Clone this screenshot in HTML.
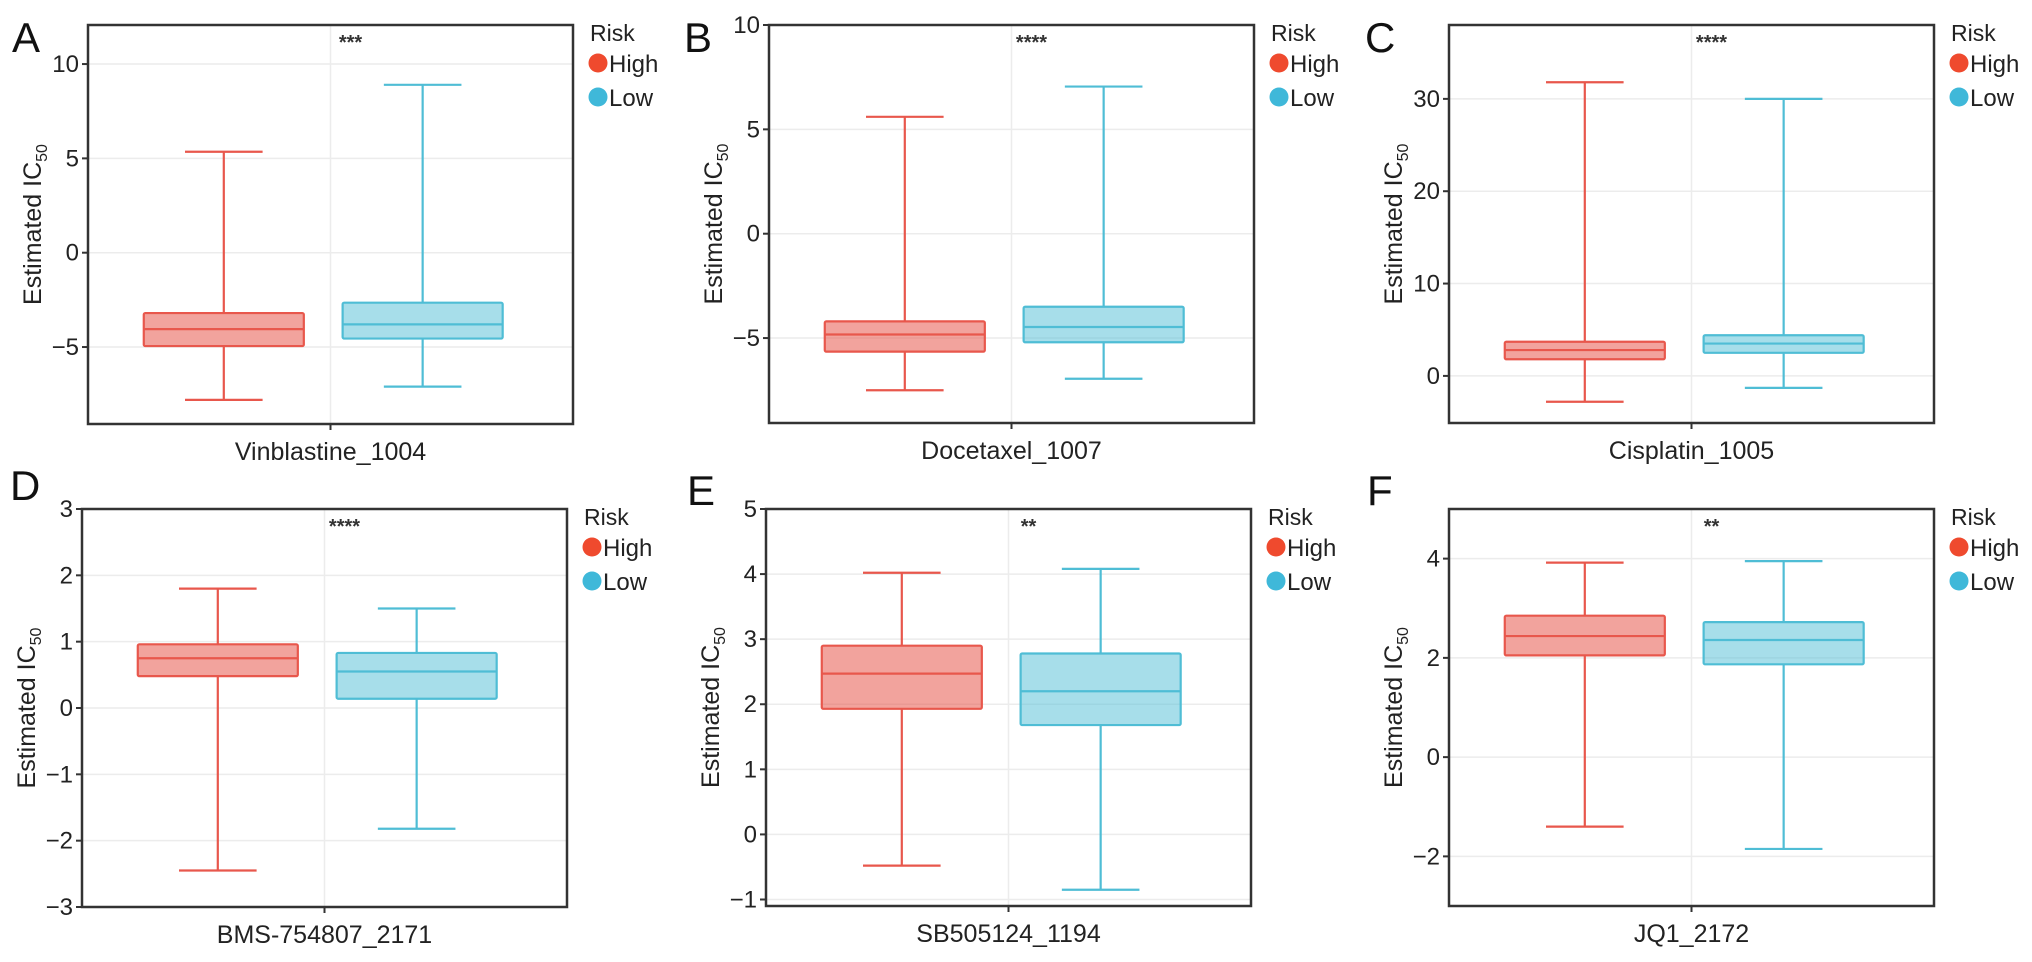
<!DOCTYPE html>
<html><head><meta charset="utf-8"><style>
html,body{margin:0;padding:0;background:#fff;}
svg{display:block;font-family:"Liberation Sans",Arial,sans-serif;}
</style></head><body>
<svg id="fig" width="2032" height="962" viewBox="0 0 2032 962" xmlns="http://www.w3.org/2000/svg"></svg>
<script>
// ---- data ----
const panelLetters = ["A","B","C","D","E","F"];
const drugNames = ["Vinblastine_1004","Docetaxel_1007","Cisplatin_1005","BMS-754807_2171","SB505124_1194","JQ1_2172"];
const significance = ["***","****","****","****","**","**"];
const yDomainMin = [-9.08,-9.07,-5.1,-3,-1.1,-3];
const yDomainMax = [12.07,10,38,3,5,5];
const yTicks = [[-5,0,5,10],[-5,0,5,10],[0,10,20,30],[-3,-2,-1,0,1,2,3],[-1,0,1,2,3,4,5],[-2,0,2,4]];
const yTickLabels = [["−5","0","5","10"],["−5","0","5","10"],["0","10","20","30"],["−3","−2","−1","0","1","2","3"],["−1","0","1","2","3","4","5"],["−2","0","2","4"]];
const groups = ["High","Low"];
// [min, q1, median, q3, max]
const highStats = [[-7.8,-4.95,-4.05,-3.2,5.35],[-7.5,-5.65,-4.83,-4.2,5.6],[-2.8,1.8,2.8,3.7,31.8],[-2.45,0.48,0.75,0.96,1.8],[-0.48,1.93,2.47,2.9,4.02],[-1.4,2.05,2.44,2.85,3.92]];
const lowStats = [[-7.1,-4.55,-3.8,-2.65,8.9],[-6.95,-5.2,-4.47,-3.5,7.05],[-1.3,2.5,3.5,4.4,30],[-1.82,0.14,0.55,0.83,1.5],[-0.85,1.68,2.2,2.78,4.08],[-1.85,1.87,2.36,2.72,3.95]];

// ---- layout ----
const plotLeft = [88,769,1449,82,766,1449];
const plotWidth = 485;
const plotTop = [25,25,25,509,509,509];
const plotBottom = [424,423,423,907,906,906];
const letterX = [12,684,1365,10,687,1367];
const letterY = [52,52,52,500,505,505];
const strokeCol = {High:"#e8574c",Low:"#4fbdd5"};
const fillCol = {High:"rgba(232,87,76,0.55)",Low:"rgba(79,189,213,0.5)"};
const dotCol = {High:"#ef4a2e",Low:"#3fb8d9"};
const groupPos = [0.28,0.69];

const NS="http://www.w3.org/2000/svg";
const svg=document.getElementById('fig');
function mk(tag,attrs,parent){const e=document.createElementNS(NS,tag);for(const k in attrs)e.setAttribute(k,attrs[k]);(parent||svg).appendChild(e);return e;}

for(let p=0;p<6;p++){
  const g=mk('g',{});
  
  
  const L=plotLeft[p],R=L+plotWidth,T=plotTop[p],B=plotBottom[p];
  const y=v=>B-(v-yDomainMin[p])/(yDomainMax[p]-yDomainMin[p])*(B-T);
  const x=f=>L+f*plotWidth;
  const cx=(L+R)/2;
  // grid
  yTicks[p].forEach((t,i)=>{
    const gl=mk('line',{x1:L,x2:R,y1:y(t),y2:y(t),stroke:'#ececec','stroke-width':1.5},g);
    
    
    const tk=mk('line',{x1:L-6,x2:L,y1:y(t),y2:y(t),stroke:'#333','stroke-width':2},g);
    
    
    const tl=mk('text',{x:L-9,y:y(t)+8,'text-anchor':'end','font-size':24,fill:'#222'},g);
    tl.textContent=yTickLabels[p][i];
    
    
  });
  const vg=mk('line',{x1:cx,x2:cx,y1:T,y2:B,stroke:'#ececec','stroke-width':1.5},g);
  
  
  // boxes
  groups.forEach((grp,gi)=>{
    const s=(gi===0?highStats:lowStats)[p];
    const c=x(groupPos[gi]),hw=0.165*plotWidth,cw=0.08*plotWidth;
    const bg=mk('g',{},g);
    
    
    mk('line',{x1:c,x2:c,y1:y(s[4]),y2:y(s[3]),stroke:strokeCol[grp],'stroke-width':2.2},bg);
    mk('line',{x1:c,x2:c,y1:y(s[1]),y2:y(s[0]),stroke:strokeCol[grp],'stroke-width':2.2},bg);
    mk('line',{x1:c-cw,x2:c+cw,y1:y(s[4]),y2:y(s[4]),stroke:strokeCol[grp],'stroke-width':2.2},bg);
    mk('line',{x1:c-cw,x2:c+cw,y1:y(s[0]),y2:y(s[0]),stroke:strokeCol[grp],'stroke-width':2.2},bg);
    mk('rect',{x:c-hw,y:y(s[3]),width:2*hw,height:y(s[1])-y(s[3]),fill:fillCol[grp],stroke:strokeCol[grp],'stroke-width':2.2,rx:1.5},bg);
    mk('line',{x1:c-hw,x2:c+hw,y1:y(s[2]),y2:y(s[2]),stroke:strokeCol[grp],'stroke-width':2.2},bg);
  });
  // frame
  const fr=mk('rect',{x:L,y:T,width:plotWidth,height:B-T,fill:'none',stroke:'#333','stroke-width':2.5},g);
  
  
  const xt=mk('line',{x1:cx,x2:cx,y1:B,y2:B+6,stroke:'#333','stroke-width':2},g);
  
  
  const xl=mk('text',{x:cx,y:B+36,'text-anchor':'middle','font-size':25,fill:'#222'},g);
  xl.textContent=drugNames[p];
  
  
  const yt=mk('text',{x:0,y:0,'text-anchor':'middle','font-size':25,fill:'#222',transform:`translate(${L-47},${(T+B)/2}) rotate(-90)`},g);
  yt.innerHTML='Estimated IC<tspan font-size="16" dy="6">50</tspan>';
  
  
  const st=mk('text',{x:cx+20,y:T+24,'text-anchor':'middle','font-size':20,'font-weight':'bold',fill:'#333'},g);
  st.textContent=significance[p];
  
  
  const lt=mk('text',{x:letterX[p],y:letterY[p],'font-size':42,fill:'#111'},g);
  lt.textContent=panelLetters[p];
  
  
  // legend
  const lg=mk('g',{},g);
  
  
  const rt=mk('text',{x:R+17,y:T+16,'font-size':23,fill:'#222'},lg);
  rt.textContent='Risk';
  
  
  groups.forEach((grp,gi)=>{
    const yy=T+38+gi*34;
    const le=mk('g',{},lg);
    
    
    mk('circle',{cx:R+25,cy:yy,r:9.5,fill:dotCol[grp]},le);
    const tx=mk('text',{x:R+36,y:yy+9,'font-size':24,fill:'#222'},le);
    tx.textContent=grp;
  });
}
</script>
</body></html>
